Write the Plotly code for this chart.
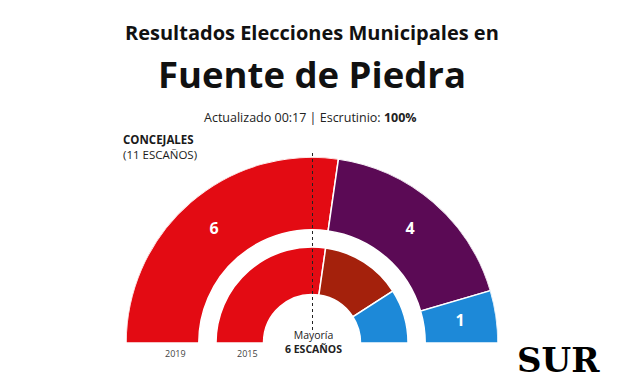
import plotly.graph_objects as go

# ---- data ----
total_seats = 11
majority = 6
parties_2019 = ["PSOE", "Adelante", "PP"]
seats_2019 = [6, 4, 1]
colors_2019 = ["#e30b13", "#5b0a55", "#1d89d8"]
parties_2015 = ["PSOE", "IU", "PP"]
seats_2015 = [6, 3, 2]
colors_2015 = ["#e30b13", "#a4210c", "#1d89d8"]
ring_labels = ["2019", "2015"]

# ring geometry (radial units)
R_MAX = 184
outer_ring = (112, 184)
inner_ring = (48, 95)

FONT = "Open Sans"
W, H = 624, 385
OX, OY = 8, 8  # page body margin compensation


def px(x):
    return (x - OX) / W


def py(y):
    return 1 - (y - OY) / H


def ring(seats):
    step = 180.0 / total_seats
    thetas, widths = [], []
    cum = 0
    for s in seats:
        thetas.append(180 - (cum + s / 2) * step)
        widths.append(s * step)
        cum += s
    return thetas, widths


fig = go.Figure()

for seats, cols, names, (r0, r1) in [
    (seats_2019, colors_2019, parties_2019, outer_ring),
    (seats_2015, colors_2015, parties_2015, inner_ring),
]:
    th, w = ring(seats)
    fig.add_trace(go.Barpolar(
        theta=th, width=w, r=[r1 - r0] * len(seats), base=[r0] * len(seats),
        marker=dict(color=cols, line=dict(color="white", width=1.5)),
        text=names, hoverinfo="text", showlegend=False,
    ))

# seat labels on outer ring
th, w = ring(seats_2019)
fig.add_trace(go.Scatterpolar(
    theta=th, r=[(outer_ring[0] + outer_ring[1]) / 2] * len(th),
    mode="text", text=["<b>%d</b>" % s for s in seats_2019],
    textfont=dict(color="white", size=16, family=FONT + ", sans-serif"),
    showlegend=False, hoverinfo="skip",
))

fig.update_layout(
    width=W, height=H,
    margin=dict(l=0, r=0, t=0, b=0),
    paper_bgcolor="white",
    plot_bgcolor="white",
    font=dict(family=FONT + ", sans-serif", color="#222"),
    polar=dict(
        domain=dict(x=[px(126), px(498)], y=[py(343), py(157)]),
        sector=[0, 180],
        bgcolor="white",
        radialaxis=dict(range=[0, R_MAX], visible=False, showgrid=False),
        angularaxis=dict(visible=False, showgrid=False, rotation=0,
                         direction="counterclockwise"),
        barmode="overlay",
    ),
)

# majority dotted line
fig.add_shape(type="line", xref="paper", yref="paper",
              x0=px(312.5), x1=px(312.5), y0=py(153), y1=py(333),
              line=dict(color="#222", width=1, dash="dot"))

ann = []


def txt(text, x, y, size, color="#111", bold=False, xanchor="center", family=None,
        align="center"):
    ann.append(dict(text=("<b>%s</b>" % text) if bold else text,
                    x=px(x), y=py(y), xref="paper", yref="paper",
                    xanchor=xanchor, yanchor="middle", showarrow=False, align=align,
                    font=dict(size=size, color=color,
                              family=family or (FONT + ", sans-serif"))))


txt("Resultados Elecciones Municipales en", 312, 32, 20, "#111", True)
txt("Fuente de Piedra", 312, 74, 36.5, "#111", True)
txt("Actualizado 00:17 | Escrutinio: <b>100%</b>", 310, 117, 12.5, "#222")
txt("<b>CONCEJALES</b><br>(%d ESCAÑOS)" % total_seats, 121, 147, 11.5, "#1a1a1a",
    False, "left", align="left")
txt("Mayoría<br><b>%d ESCAÑOS</b>" % majority, 313, 342, 10.5, "#222")
txt(ring_labels[0], 175, 353, 9, "#444")
txt(ring_labels[1], 247, 353, 9, "#444")
txt("SUR", 558, 360, 34, "#000", True, family="DejaVu Serif, serif")

fig.update_layout(annotations=ann)

fig.write_html("out.html")
